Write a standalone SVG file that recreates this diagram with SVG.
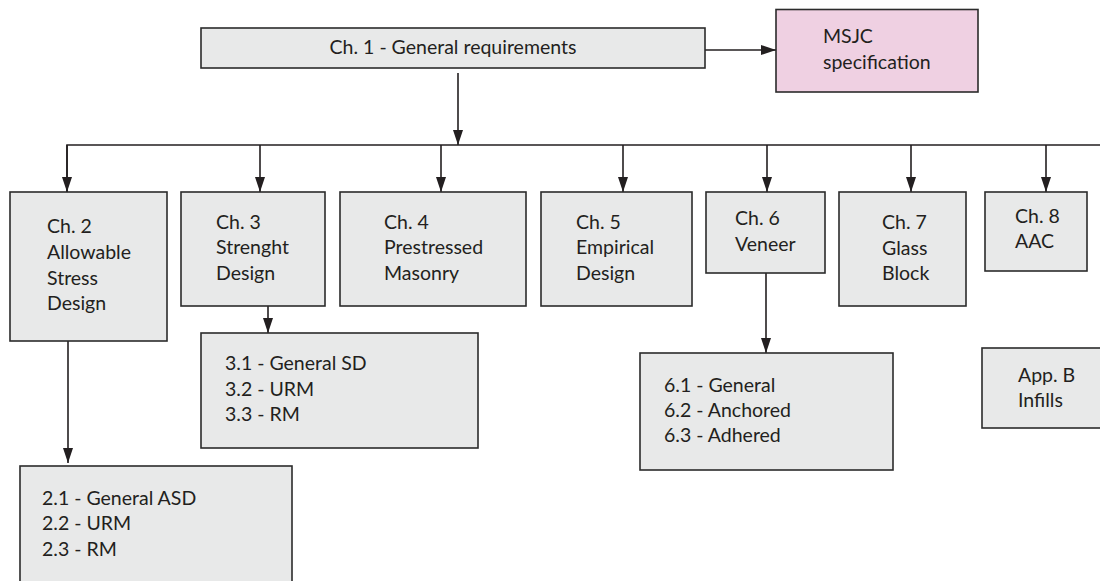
<svg xmlns="http://www.w3.org/2000/svg" width="1100" height="581" viewBox="0 0 1100 581">
<style>
.b{fill:#e8e9e9;stroke:#2b2b2b;stroke-width:1.6}
.p{fill:#efd0e2;stroke:#2b2b2b;stroke-width:1.6}
.t{font-family:Lato,"Open Sans","Liberation Sans",sans-serif;font-size:19.5px;fill:#231f20}
.c{fill:none;stroke:#231f20;stroke-width:1.6}
</style>
<defs>
<marker id="ah" markerUnits="userSpaceOnUse" markerWidth="15" markerHeight="10" refX="15" refY="5" orient="auto">
<path d="M0,0 L15,5 L0,10 z" fill="#231f20"/>
</marker>
</defs>
<rect width="1100" height="581" fill="#fff"/>
<g id="connectors">
<path class="c" d="M705,50 H776" marker-end="url(#ah)"/>
<path class="c" d="M458,73 V145" marker-end="url(#ah)"/>
<path class="c" d="M67,192 V145 H1100"/>
<path class="c" d="M67,145 V192" marker-end="url(#ah)"/>
<path class="c" d="M260,145 V192" marker-end="url(#ah)"/>
<path class="c" d="M441,145 V192" marker-end="url(#ah)"/>
<path class="c" d="M623,145 V192" marker-end="url(#ah)"/>
<path class="c" d="M767,145 V192" marker-end="url(#ah)"/>
<path class="c" d="M911,145 V192" marker-end="url(#ah)"/>
<path class="c" d="M1046,145 V192" marker-end="url(#ah)"/>
<path class="c" d="M68,341 V463" marker-end="url(#ah)"/>
<path class="c" d="M268,306 V333" marker-end="url(#ah)"/>
<path class="c" d="M766,273 V353" marker-end="url(#ah)"/>
</g>
<g id="ch1"><rect class="b" x="201" y="28" width="504" height="40"/><text class="t" x="453" y="54" text-anchor="middle">Ch. 1 - General requirements</text></g>
<g id="msjc"><rect class="p" x="776" y="9.5" width="202" height="82.5"/><text class="t" x="823" y="43">MSJC</text><text class="t" x="823" y="69">specification</text></g>
<g id="ch2"><rect class="b" x="10" y="192" width="157" height="149"/><text class="t" x="47" y="233">Ch. 2</text><text class="t" x="47" y="259">Allowable</text><text class="t" x="47" y="285">Stress</text><text class="t" x="47" y="310">Design</text></g>
<g id="ch3"><rect class="b" x="181" y="192" width="144" height="114"/><text class="t" x="216" y="229">Ch. 3</text><text class="t" x="216" y="254">Strenght</text><text class="t" x="216" y="280">Design</text></g>
<g id="ch4"><rect class="b" x="340" y="192" width="186" height="114"/><text class="t" x="384" y="229">Ch. 4</text><text class="t" x="384" y="254">Prestressed</text><text class="t" x="384" y="280">Masonry</text></g>
<g id="ch5"><rect class="b" x="541" y="192" width="151" height="114"/><text class="t" x="576" y="229">Ch. 5</text><text class="t" x="576" y="254">Empirical</text><text class="t" x="576" y="280">Design</text></g>
<g id="ch6"><rect class="b" x="706" y="192" width="119" height="81"/><text class="t" x="735" y="225">Ch. 6</text><text class="t" x="735" y="251">Veneer</text></g>
<g id="ch7"><rect class="b" x="839" y="192" width="127" height="114"/><text class="t" x="882" y="229">Ch. 7</text><text class="t" x="882" y="255">Glass</text><text class="t" x="882" y="280">Block</text></g>
<g id="ch8"><rect class="b" x="985" y="192" width="102" height="79"/><text class="t" x="1015" y="223">Ch. 8</text><text class="t" x="1015" y="248">AAC</text></g>
<g id="s3"><rect class="b" x="201" y="333" width="277" height="115"/><text class="t" x="225" y="370">3.1 - General SD</text><text class="t" x="225" y="396">3.2 - URM</text><text class="t" x="225" y="421">3.3 - RM</text></g>
<g id="s2"><rect class="b" x="20" y="466" width="272" height="130"/><text class="t" x="42" y="505">2.1 - General ASD</text><text class="t" x="42" y="530">2.2 - URM</text><text class="t" x="42" y="556">2.3 - RM</text></g>
<g id="s6"><rect class="b" x="640" y="353" width="253" height="117"/><text class="t" x="664" y="392">6.1 - General</text><text class="t" x="664" y="417">6.2 - Anchored</text><text class="t" x="664" y="442">6.3 - Adhered</text></g>
<g id="appb"><rect class="b" x="982" y="348" width="130" height="80"/><text class="t" x="1018" y="382">App. B</text><text class="t" x="1018" y="407">Infills</text></g>
</svg>
